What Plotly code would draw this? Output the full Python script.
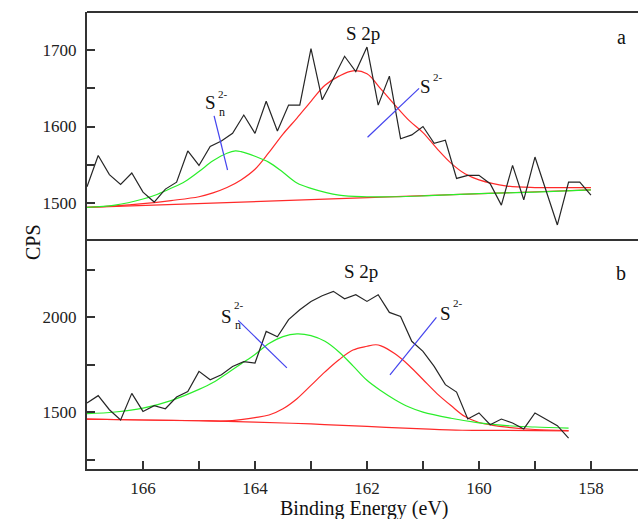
import plotly.graph_objects as go

# ---------------- data ----------------
# Top panel (a)
a_energy = [167.0, 166.8, 166.6, 166.4, 166.2, 166.0, 165.8, 165.6, 165.4, 165.2,
            165.0, 164.8, 164.6, 164.4, 164.2, 164.0, 163.8, 163.6, 163.4, 163.2,
            163.0, 162.8, 162.6, 162.4, 162.2, 162.0, 161.8, 161.6, 161.4, 161.2,
            161.0, 160.8, 160.6, 160.4, 160.2, 160.0, 159.8, 159.6, 159.4, 159.2,
            159.0, 158.8, 158.6, 158.4, 158.2, 158.0]
a_cps = [1521, 1562, 1537, 1524, 1539, 1514, 1501, 1518, 1527, 1568,
         1549, 1574, 1581, 1591, 1615, 1591, 1633, 1594, 1628, 1628,
         1702, 1635, 1663, 1692, 1672, 1704, 1628, 1666, 1584, 1589,
         1600, 1578, 1582, 1532, 1536, 1536, 1525, 1497, 1549, 1504,
         1560, 1517, 1471, 1527, 1527, 1510]

a_base_x = [167.0, 158.0]
a_base_y = [1494, 1517]

a_s2_x = [167.0, 166.5, 166.0, 165.5, 165.0, 164.75, 164.5, 164.25, 164.0, 163.75,
          163.5, 163.25, 163.0, 162.75, 162.5, 162.25, 162.0, 161.75, 161.5, 161.25,
          161.0, 160.75, 160.5, 160.25, 160.0, 159.5, 159.0, 158.5, 158.0]
a_s2_y = [1494, 1496, 1499, 1503, 1508, 1513, 1520, 1530, 1544, 1566,
          1590, 1611, 1633, 1654, 1666, 1673, 1669, 1649, 1628, 1608,
          1592, 1571, 1552, 1538, 1530, 1522, 1520, 1520, 1520]

a_sn_x = [167.0, 166.5, 166.0, 165.75, 165.5, 165.25, 165.0, 164.75, 164.5, 164.35,
          164.25, 164.0, 163.75, 163.5, 163.25, 163.0, 162.5, 162.0, 161.5, 161.0,
          160.0, 159.0, 158.0]
a_sn_y = [1494, 1497, 1505, 1511, 1519, 1528, 1541, 1555, 1565, 1568,
          1567, 1561, 1553, 1540, 1526, 1519, 1510, 1508, 1508, 1509,
          1512, 1514, 1517]

# Bottom panel (b)
b_energy = [167.0, 166.8, 166.6, 166.4, 166.2, 166.0, 165.8, 165.6, 165.4, 165.2,
            165.0, 164.8, 164.6, 164.4, 164.2, 164.0, 163.8, 163.6, 163.4, 163.2,
            163.0, 162.8, 162.6, 162.4, 162.2, 162.0, 161.8, 161.6, 161.4, 161.2,
            161.0, 160.8, 160.6, 160.4, 160.2, 160.0, 159.8, 159.6, 159.4, 159.2,
            159.0, 158.8, 158.6, 158.4]
b_cps = [1547, 1586, 1512, 1458, 1598, 1503, 1533, 1517, 1579, 1608,
         1714, 1670, 1696, 1740, 1765, 1758, 1924, 1896, 1986, 2038,
         2082, 2112, 2135, 2096, 2117, 2082, 2117, 2024, 2003, 1872,
         1819, 1740, 1644, 1605, 1463, 1495, 1433, 1463, 1442, 1411,
         1495, 1463, 1428, 1363]

b_base_x = [167.0, 166.0, 165.0, 164.0, 163.0, 162.0, 161.0, 160.3, 159.5, 158.4]
b_base_y = [1463, 1458, 1454, 1447, 1437, 1424, 1411, 1404, 1403, 1401]

b_s2_x = [167.0, 166.0, 165.0, 164.5, 164.25, 164.0, 163.75, 163.5, 163.25, 163.0,
          162.75, 162.5, 162.25, 162.0, 161.84, 161.75, 161.5, 161.25, 161.0, 160.75,
          160.5, 160.25, 160.0, 159.75, 159.5, 159.0, 158.4]
b_s2_y = [1463, 1458, 1454, 1453, 1460, 1470, 1484, 1517, 1570, 1640,
          1711, 1775, 1826, 1846, 1854, 1848, 1806, 1745, 1671, 1597,
          1534, 1476, 1445, 1430, 1420, 1408, 1402]

b_sn_x = [167.0, 166.5, 166.0, 165.5, 165.0, 164.75, 164.5, 164.25, 164.0, 163.75,
          163.5, 163.25, 163.0, 162.75, 162.5, 162.25, 162.0, 161.75, 161.5, 161.25,
          161.0, 160.5, 160.0, 159.5, 159.0, 158.4]
b_sn_y = [1491, 1500, 1520, 1560, 1619, 1655, 1703, 1753, 1803, 1860,
          1897, 1911, 1902, 1872, 1816, 1743, 1667, 1612, 1565, 1526,
          1499, 1467, 1443, 1428, 1421, 1415]

x_major = [166, 164, 162, 160, 158]
x_minor = [165, 163, 161, 159]
a_major = [1500, 1600, 1700]
a_minor = [1550, 1650]
b_major = [1500, 2000]
b_minor = [1250, 1750, 2250]

# ---------------- styles ----------------
BLACK = "#262626"
RED = "#ff2a2a"
GREEN = "#2bee2b"
BLUE = "#4444ee"
AX = "#333333"
FONT = "Liberation Serif"

fig = go.Figure()

def add(x, y, color, yaxis, shape="spline", width=1.2):
    fig.add_trace(go.Scatter(x=x, y=y, mode="lines", yaxis=yaxis, xaxis="x",
                             line=dict(color=color, width=width, shape=shape),
                             hoverinfo="skip", showlegend=False))

# top panel
add(a_base_x, a_base_y, RED, "y2", shape="linear")
add(a_s2_x, a_s2_y, RED, "y2")
add(a_sn_x, a_sn_y, GREEN, "y2")
add(a_energy, a_cps, BLACK, "y2", shape="linear")
# bottom panel
add(b_base_x, b_base_y, RED, "y")
add(b_s2_x, b_s2_y, RED, "y")
add(b_sn_x, b_sn_y, GREEN, "y")
add(b_energy, b_cps, BLACK, "y", shape="linear")

split = 228 / 457.0
tickfont = dict(family=FONT, size=17, color="#222222")

def yax(domain, rng, major, minor):
    return dict(domain=domain, range=rng, anchor="x",
                showline=True, linecolor=AX, linewidth=2,
                ticks="inside", ticklen=8, tickwidth=1.5, tickcolor=AX,
                tickvals=major, ticktext=[str(v) for v in major],
                minor=dict(tickvals=minor, ticks="inside", ticklen=8,
                           tickwidth=1.5, tickcolor=AX, showgrid=False),
                showgrid=False, zeroline=False, tickfont=tickfont,
                ticklabelstandoff=5)

fig.update_layout(
    width=638, height=519,
    margin=dict(l=87, r=0, t=12, b=50),
    paper_bgcolor="white", plot_bgcolor="white",
    xaxis=dict(range=[167, 157.16], domain=[0, 1], anchor="y",
               showline=True, linecolor=AX, linewidth=2, mirror=True,
               ticks="inside", ticklen=8, tickwidth=1.5, tickcolor=AX,
               tickvals=x_major, ticktext=[str(v) for v in x_major],
               minor=dict(tickvals=x_minor, ticks="inside", ticklen=8,
                          tickwidth=1.5, tickcolor=AX, showgrid=False),
               showgrid=False, zeroline=False, tickfont=tickfont,
               ticklabelstandoff=3),
    yaxis=yax([0, split], [1200, 2400], b_major, b_minor),
    yaxis2=yax([split, 1], [1450, 1750], a_major, a_minor),
)

# top border
fig.add_shape(type="line", xref="paper", yref="paper", x0=0, x1=1, y0=1, y1=1,
              line=dict(color=AX, width=2))

# blue pointer lines
fig.add_shape(type="line", xref="x", yref="y2", x0=164.73, y0=1614, x1=164.49, y1=1543,
              line=dict(color=BLUE, width=1.2))
fig.add_shape(type="line", xref="x", yref="y2", x0=161.99, y0=1586, x1=161.07, y1=1650,
              line=dict(color=BLUE, width=1.2))
fig.add_shape(type="line", xref="x", yref="y", x0=164.30, y0=1982, x1=163.43, y1=1732,
              line=dict(color=BLUE, width=1.2))
fig.add_shape(type="line", xref="x", yref="y", x0=161.59, y0=1696, x1=160.76, y1=1998,
              line=dict(color=BLUE, width=1.2))

def txt(x, y, text, size, yref, xref="x", **kw):
    fig.add_annotation(x=x, y=y, xref=xref, yref=yref, text=text, showarrow=False,
                       font=dict(family=FONT, size=size, color="#111111"), **kw)

# top panel labels
txt(162.07, 1722, "S 2p", 19, "y2")
txt(157.45, 1717, "a", 20, "y2")
txt(164.80, 1632, "S", 19, "y2")
txt(164.57, 1642, "2-", 11, "y2")
txt(164.59, 1619, "n", 12, "y2")
txt(160.95, 1653, "S", 19, "y2")
txt(160.74, 1665, "2-", 11, "y2")
# bottom panel labels
txt(162.11, 2240, "S 2p", 19, "y")
txt(157.46, 2232, "b", 20, "y")
txt(164.51, 2003, "S", 19, "y")
txt(164.28, 2065, "2-", 11, "y")
txt(164.31, 1960, "n", 12, "y")
txt(160.59, 2021, "S", 19, "y")
txt(160.38, 2074, "2-", 11, "y")

# axis titles
fig.add_annotation(x=(364 - 87) / 551.0, y=(469 - 508) / 457.0, xref="paper", yref="paper",
                   text="Binding Energy (eV)", showarrow=False, yanchor="middle",
                   font=dict(family=FONT, size=20, color="#111111"))
fig.add_annotation(x=(20 - 87) / 551.0, y=(469 - 242) / 457.0, xref="paper", yref="paper",
                   text="CPS", showarrow=False, textangle=-90,
                   font=dict(family=FONT, size=20, color="#111111"))

fig.write_html("out.html", config={"displayModeBar": False},
               post_script="document.body.style.margin='0';document.body.style.padding='0';")
